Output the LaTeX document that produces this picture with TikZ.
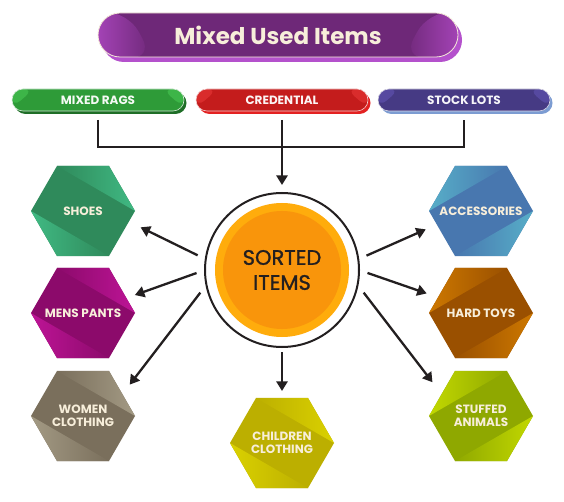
\documentclass[tikz,border=0pt]{standalone}
\usepackage{fontspec}
\setmainfont{Poppins}
\newfontfamily\hubfont{Poppins}[FakeBold=1.2]
\usetikzlibrary{shapes.geometric,arrows.meta,calc}
\newcommand{\hx}[1]{\makebox[0pt][c]{#1}}
\definecolor{ink}{HTML}{231F20}
\definecolor{cream}{HTML}{F7EEDA}
\definecolor{shoesD}{HTML}{2F8A5B}\definecolor{shoesL}{HTML}{40B983}
\definecolor{mensD}{HTML}{8C0A6B}\definecolor{mensL}{HTML}{BD1496}
\definecolor{womenD}{HTML}{7A6F5C}\definecolor{womenL}{HTML}{A39A84}
\definecolor{childD}{HTML}{BCAF00}\definecolor{childL}{HTML}{DAD100}
\definecolor{accD}{HTML}{4877AF}\definecolor{accL}{HTML}{57AEC8}
\definecolor{toysD}{HTML}{9A5000}\definecolor{toysL}{HTML}{CD7800}
\definecolor{stuffD}{HTML}{8FA800}\definecolor{stuffL}{HTML}{C2D800}
\definecolor{purD}{HTML}{6E2878}\definecolor{purL}{HTML}{A443B6}\definecolor{purS}{HTML}{B451CC}
\definecolor{grnD}{HTML}{2E9B38}\definecolor{grnL}{HTML}{3DB548}\definecolor{grnS}{HTML}{1F6E27}
\definecolor{redD}{HTML}{C41C1C}\definecolor{redL}{HTML}{D92C2C}\definecolor{redS}{HTML}{E32222}
\definecolor{vioD}{HTML}{463A84}\definecolor{vioL}{HTML}{5649A0}\definecolor{vioS}{HTML}{7C9CD2}
\definecolor{orA}{HTML}{FFAC0C}\definecolor{orB}{HTML}{F9950B}
\tikzset{
  hexbase/.style={regular polygon, regular polygon sides=6, minimum size=104pt,
    inner sep=0pt, outer sep=0pt, text=cream, align=center,
    font=\bfseries\fontsize{12}{13.5}\selectfont},
  hexL/.style 2 args={hexbase, fill=#1, path picture={
    \coordinate (pc) at (path picture bounding box.center);
    \shade[left color=#1, right color=#2] ($(pc)+(-26pt,45pt)$) -- ($(pc)+(26pt,45pt)$) -- ($(pc)+(52pt,0pt)$) -- cycle;
    \shade[left color=#2, right color=#1] ($(pc)+(-52pt,0pt)$) -- ($(pc)+(-26pt,-45pt)$) -- ($(pc)+(26pt,-45pt)$) -- cycle;
  }},
  hexR/.style 2 args={hexbase, fill=#1, path picture={
    \coordinate (pc) at (path picture bounding box.center);
    \shade[left color=#2, right color=#1] ($(pc)+(-52pt,0pt)$) -- ($(pc)+(-26pt,45pt)$) -- ($(pc)+(26pt,45pt)$) -- cycle;
    \shade[left color=#1, right color=#2] ($(pc)+(52pt,0pt)$) -- ($(pc)+(26pt,-45pt)$) -- ($(pc)+(-26pt,-45pt)$) -- cycle;
  }},
  pill/.style n args={3}{rectangle, rounded corners=11pt, minimum width=172pt, minimum height=22pt,
    inner sep=0pt, outer sep=0pt, fill=#1, draw=white!80!#1, line width=0.6pt, text=white!95!#1,
    font=\bfseries\fontsize{12}{14}\selectfont,
    preaction={fill=#3, transform canvas={xshift=2.5pt,yshift=-3pt}},
    path picture={
      \coordinate (pc) at (path picture bounding box.center);
      \fill[#2] ($(pc)+(-86pt,11pt)$) -- ($(pc)+(-64pt,11pt)$) -- ($(pc)+(-86pt,-8pt)$) -- cycle;
      \fill[#2] ($(pc)+(86pt,11pt)$) -- ($(pc)+(64pt,11pt)$) -- ($(pc)+(86pt,-8pt)$) -- cycle;
    }},
  banner/.style={rectangle, rounded corners=22pt, minimum width=360pt, minimum height=44pt,
    inner sep=0pt, outer sep=0pt, fill=purD, draw=cream, line width=0.8pt, text=cream,
    font=\bfseries\fontsize{23}{27}\selectfont,
    preaction={fill=purS, transform canvas={xshift=4pt,yshift=-5pt}},
    path picture={
      \coordinate (pc) at (path picture bounding box.center);
      \shade[left color=purL, right color=purD] ($(pc)+(-181pt,23pt)$) -- ($(pc)+(-150pt,23pt)$) -- ($(pc)+(-125pt,-23pt)$) -- ($(pc)+(-181pt,-23pt)$) -- cycle;
      \shade[left color=purD, right color=purL] ($(pc)+(181pt,23pt)$) -- ($(pc)+(150pt,23pt)$) -- ($(pc)+(125pt,-23pt)$) -- ($(pc)+(181pt,-23pt)$) -- cycle;
    }},
  hub/.style={circle, minimum size=154pt, inner sep=0pt, outer sep=0pt, draw=ink,
    line width=2pt, fill=white, text=ink, align=center,
    font=\hubfont\fontsize{21}{25}\selectfont,
    path picture={
      \fill[orA] (path picture bounding box.center) circle (67pt);
      \fill[orB] (path picture bounding box.center) circle (59pt);
    }},
  ln/.style={draw=ink, line width=2.3pt},
  arr/.style={ln, -{Triangle[length=9.5pt,width=11pt]}}
}
\begin{document}
\begin{tikzpicture}[x=1pt,y=-1pt]
\useasboundingbox[fill=white] (0,0) rectangle (564,502);
% title
\node[banner] (title) at (278,35) {Mixed Used Items};
% source pills
\node[pill={grnD}{grnL}{grnS}] (rags) at (98,100) {MIXED RAGS};
\node[pill={redD}{redL}{redS}] (cred) at (282,100) {CREDENTIAL};
\node[pill={vioD}{vioL}{vioS}] (stock) at (464,100) {STOCK LOTS};
% hub
\node[hub] (sorted) at (282,270) {SORTED\\ITEMS};
% hexagons
\node[hexL={shoesD}{shoesL}] (shoes) at (83,211) {\hx{SHOES}};
\node[hexL={mensD}{mensL}] (mens) at (83,313) {\hx{MENS PANTS}};
\node[hexL={womenD}{womenL}] (women) at (83,416) {\hx{WOMEN}\\\hx{CLOTHING}};
\node[hexL={childD}{childL}] (child) at (282,443) {\hx{CHILDREN}\\\hx{CLOTHING}};
\node[hexR={accD}{accL}] (acc) at (481,211) {\hx{ACCESSORIES}};
\node[hexR={toysD}{toysL}] (toys) at (481,313) {\hx{HARD TOYS}};
\node[hexR={stuffD}{stuffL}] (stuffed) at (481,416) {\hx{STUFFED}\\\hx{ANIMALS}};
% connectors from the sources
\coordinate (hbar) at (282,147);
\draw[ln, shorten <=9pt, shorten >=9pt] (rags.south) |- (hbar) -| (stock.south);
\draw[arr, shorten <=9pt, shorten >=8pt] (cred.south) -- (sorted.north);
% connectors to the categories
\draw[arr, shorten <=9pt, shorten >=13pt] (sorted.172) -- (shoes.-13);
\draw[arr, shorten <=9pt, shorten >=9pt] (sorted.180) -- (mens.19);
\draw[arr, shorten <=10pt, shorten >=12pt] (sorted.191) -- (women.29);
\draw[arr, shorten <=5pt, shorten >=7pt] (sorted.south) -- (child.north);
\draw[arr, shorten <=9pt, shorten >=12pt] (sorted.8) -- (acc.-163);
\draw[arr, shorten <=9pt, shorten >=12pt] (sorted.0) -- (toys.160);
\draw[arr, shorten <=10pt, shorten >=15pt] (sorted.-11) -- (stuffed.151);
\end{tikzpicture}
\end{document}
